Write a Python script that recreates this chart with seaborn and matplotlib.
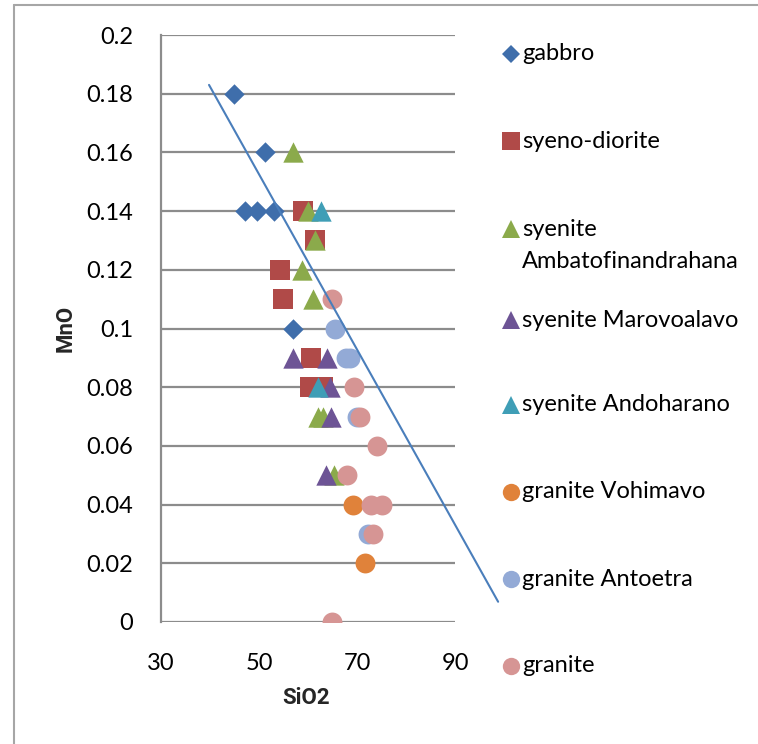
import matplotlib
matplotlib.use("Agg")
import matplotlib.pyplot as plt
import seaborn as sns
import pandas as pd
from matplotlib.lines import Line2D

sns.set_theme(style="white")
plt.rcParams['font.family'] = ['Lato', 'DejaVu Sans']

# ---- data ----
series_names = ["gabbro", "syeno-diorite", "syenite Ambatofinandrahana",
                "syenite Marovoalavo", "syenite Andoharano", "granite Vohimavo",
                "granite Antoetra", "granite"]
legend_labels = [["gabbro"], ["syeno-diorite"], ["syenite", "Ambatofinandrahana"],
                 ["syenite Marovoalavo"], ["syenite Andoharano"], ["granite Vohimavo"],
                 ["granite Antoetra"], ["granite"]]

gabbro_sio2 = [44.9, 51.2, 47.1, 49.6, 53.1, 56.9]
gabbro_mno = [0.18, 0.16, 0.14, 0.14, 0.14, 0.10]

syenodiorite_sio2 = [58.9, 61.4, 54.3, 54.8, 60.6, 60.4, 63.1]
syenodiorite_mno = [0.14, 0.13, 0.12, 0.11, 0.09, 0.08, 0.08]

amb_sio2 = [56.9, 60.1, 61.4, 58.7, 61.1, 62.1, 63.1, 65.3]
amb_mno = [0.16, 0.14, 0.13, 0.12, 0.11, 0.07, 0.07, 0.05]

marov_sio2 = [57.0, 63.9, 64.5, 64.6, 63.7]
marov_mno = [0.09, 0.09, 0.08, 0.07, 0.05]

andoh_sio2 = [62.6, 62.1]
andoh_mno = [0.14, 0.08]

vohim_sio2 = [69.2, 71.7]
vohim_mno = [0.04, 0.02]

antoe_sio2 = [65.6, 67.8, 68.6, 70.1, 72.3]
antoe_mno = [0.10, 0.09, 0.09, 0.07, 0.03]

granite_sio2 = [64.8, 69.3, 70.6, 74.0, 68.0, 72.8, 75.0, 73.3, 64.9]
granite_mno = [0.11, 0.08, 0.07, 0.06, 0.05, 0.04, 0.04, 0.03, 0.00]

trend_sio2 = [39.8, 98.8]
trend_mno = [0.183, 0.0069]

x_ticks = [30, 50, 70, 90]
y_ticks = [0, 0.02, 0.04, 0.06, 0.08, 0.1, 0.12, 0.14, 0.16, 0.18, 0.2]
y_tick_labels = ["0", "0.02", "0.04", "0.06", "0.08", "0.1", "0.12", "0.14", "0.16", "0.18", "0.2"]

all_x = [gabbro_sio2, syenodiorite_sio2, amb_sio2, marov_sio2, andoh_sio2,
         vohim_sio2, antoe_sio2, granite_sio2]
all_y = [gabbro_mno, syenodiorite_mno, amb_mno, marov_mno, andoh_mno,
         vohim_mno, antoe_mno, granite_mno]

colors = ["#3F6EAB", "#B04A48", "#8BAA4B", "#6D5495", "#3F9EB6",
          "#E0823A", "#93AAD6", "#D69594"]
markers = ["D", "s", "^", "^", "^", "o", "o", "o"]
plot_sizes = [108, 205, 215, 215, 215, 205, 205, 205]
leg_ms = [9, 12.5, 12.5, 12.5, 12.5, 12.5, 12.5, 12.5]

rows = []
for name, xs, ys in zip(series_names, all_x, all_y):
    for xv, yv in zip(xs, ys):
        rows.append({"rock": name, "SiO2": xv, "MnO": yv})
df = pd.DataFrame(rows)

# ---- figure ----
fig = plt.figure(figsize=(7.58, 7.44), dpi=100)
ax = fig.add_axes([161 / 758, 1 - 622 / 744, 294 / 758, 587 / 744])

for i, name in enumerate(series_names):
    sub = df[df["rock"] == name]
    sns.scatterplot(data=sub, x="SiO2", y="MnO", marker=markers[i], color=colors[i],
                    s=plot_sizes[i], linewidth=0, ax=ax, legend=False, zorder=3 + i)

ax.plot(trend_sio2, trend_mno, color="#4A7EBB", lw=1.5, clip_on=False, zorder=20)

ax.set_xlim(30, 90)
ax.set_ylim(0, 0.2)
ax.set_xticks(x_ticks)
ax.set_xticklabels([str(t) for t in x_ticks])
ax.set_yticks(y_ticks)
ax.set_yticklabels(y_tick_labels)
ax.tick_params(axis="x", length=0, pad=22, labelsize=17, colors="black")
ax.tick_params(axis="y", length=0, pad=20, labelsize=17, colors="black")
ax.yaxis.grid(True, color="#8C8C8C", lw=1.6)
ax.xaxis.grid(False)
ax.set_axisbelow(True)
for sp in ["top", "right", "bottom"]:
    ax.spines[sp].set_visible(False)
ax.spines["left"].set_color("#8C8C8C")
ax.spines["left"].set_linewidth(1.6)
ax.set_facecolor("white")

ax.set_xlabel("SiO2", fontsize=16, fontweight="bold", family=["Roboto", "DejaVu Sans"])
ax.set_ylabel("MnO", fontsize=16, fontweight="bold", family=["Roboto", "DejaVu Sans"])
ax.xaxis.set_label_coords((306 - 161) / 294, -(687 - 622) / 587)
ax.yaxis.set_label_coords(-(161 - 77) / 294, (622 - 328) / 587)

# ---- legend (manual) ----
leg_y = [54, 141, 229, 320, 405, 492, 579, 666]
line_gap = 32
for i, lines in enumerate(legend_labels):
    yf = 1 - leg_y[i] / 744
    fig.add_artist(Line2D([511 / 758], [yf], marker=markers[i], color=colors[i],
                          markersize=leg_ms[i], linestyle="none", markeredgewidth=0,
                          transform=fig.transFigure))
    for j, txt in enumerate(lines):
        fig.text(522 / 758, 1 - (leg_y[i] + j * line_gap) / 744, txt, fontsize=17,
                 va="center", ha="left", color="black", transform=fig.transFigure)

# outer chart border
fig.add_artist(Line2D([14 / 758, 14 / 758], [1 - 5 / 744, 0], color="#A6A6A6", lw=1.5,
                      transform=fig.transFigure))
fig.add_artist(Line2D([14 / 758, 1], [1 - 5 / 744, 1 - 5 / 744], color="#A6A6A6", lw=1.5,
                      transform=fig.transFigure))

fig.savefig("out.png", dpi=100)
